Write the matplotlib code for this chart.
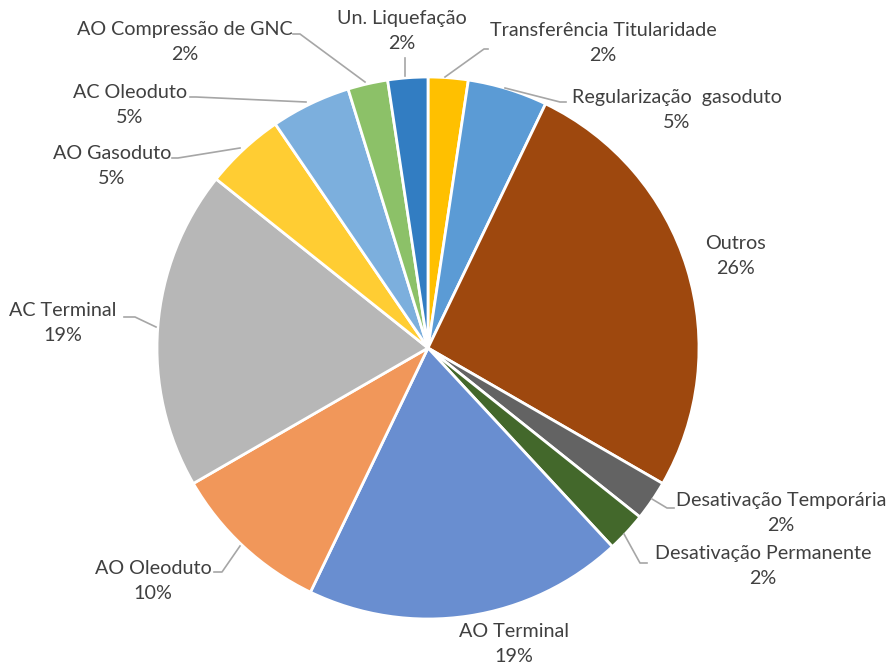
import numpy as np
import matplotlib
matplotlib.use("Agg")
import matplotlib.pyplot as plt

# -- data (clockwise from 12 o'clock) --
categories = ["Transferência Titularidade", "Regularização  gasoduto", "Outros",
              "Desativação Temporária", "Desativação Permanente", "AO Terminal",
              "AO Oleoduto", "AC Terminal", "AO Gasoduto", "AC Oleoduto",
              "AO Compressão de GNC", "Un. Liquefação"]
counts = [1, 2, 11, 1, 1, 8, 4, 8, 2, 2, 1, 1]
colors = ["#FFC000", "#5B9BD5", "#9E480E", "#636363", "#43682B", "#698ED0",
          "#F1975A", "#B7B7B7", "#FFCD33", "#7CAFDD", "#8CC168", "#327DC2"]

# -- label layout, in pixels of the 892x668 image --
# text block centre, and leader polyline (None = no leader)
label_pos = [(603, 43), (677, 110), (735, 256), (781, 513), (763, 566), (514, 644),
             (153, 581), (63, 323), (112, 166), (130, 105), (185, 42), (402, 31)]
leaders = [
    [(445, 77), (484, 49), (488, 49)],
    [(505, 88), (560, 102), (566, 102)],
    None,
    [(652, 499), (667, 508), (674, 508)],
    [(624, 534), (640, 563), (647, 563)],
    None,
    [(240, 546), (222, 572), (214, 572)],
    [(156, 327), (135, 317), (124, 317)],
    [(240, 148), (178, 158), (172, 158)],
    [(306, 102), (196, 97), (190, 97)],
    [(365, 82), (300, 34), (293, 34)],
    [(405, 76), (405, 58)],
]

W, H = 892, 668
CX, CY, R = 428, 348, 271


def px(p):
    return ((p[0] - CX) / R, (CY - p[1]) / R)


def main():
    fig = plt.figure(figsize=(W / 100, H / 100), dpi=100)
    ax = fig.add_axes([0, 0, 1, 1])

    ax.pie(counts, colors=colors, startangle=90, counterclock=False, radius=1.0,
           wedgeprops=dict(edgecolor="white", linewidth=2))

    total = sum(counts)
    for name, c, pos, lead in zip(categories, counts, label_pos, leaders):
        x, y = px(pos)
        ax.text(x, y, f"{name}\n{c / total:.0%}", ha="center", va="center",
                fontsize=14.2, color="#404040", family=["Lato", "DejaVu Sans"],
                linespacing=1.6)
        if lead:
            pts = np.array([px(p) for p in lead])
            ax.plot(pts[:, 0], pts[:, 1], color="#A6A6A6", lw=1.2)

    # pie() resets limits, so set them afterwards (1 unit = R pixels)
    ax.set_xlim(-CX / R, (W - CX) / R)
    ax.set_ylim(-(H - CY) / R, CY / R)
    ax.set_aspect("auto")
    ax.axis("off")
    plt.savefig("out.png", dpi=100)
    plt.close("all")


if __name__ == "__main__":
    main()
